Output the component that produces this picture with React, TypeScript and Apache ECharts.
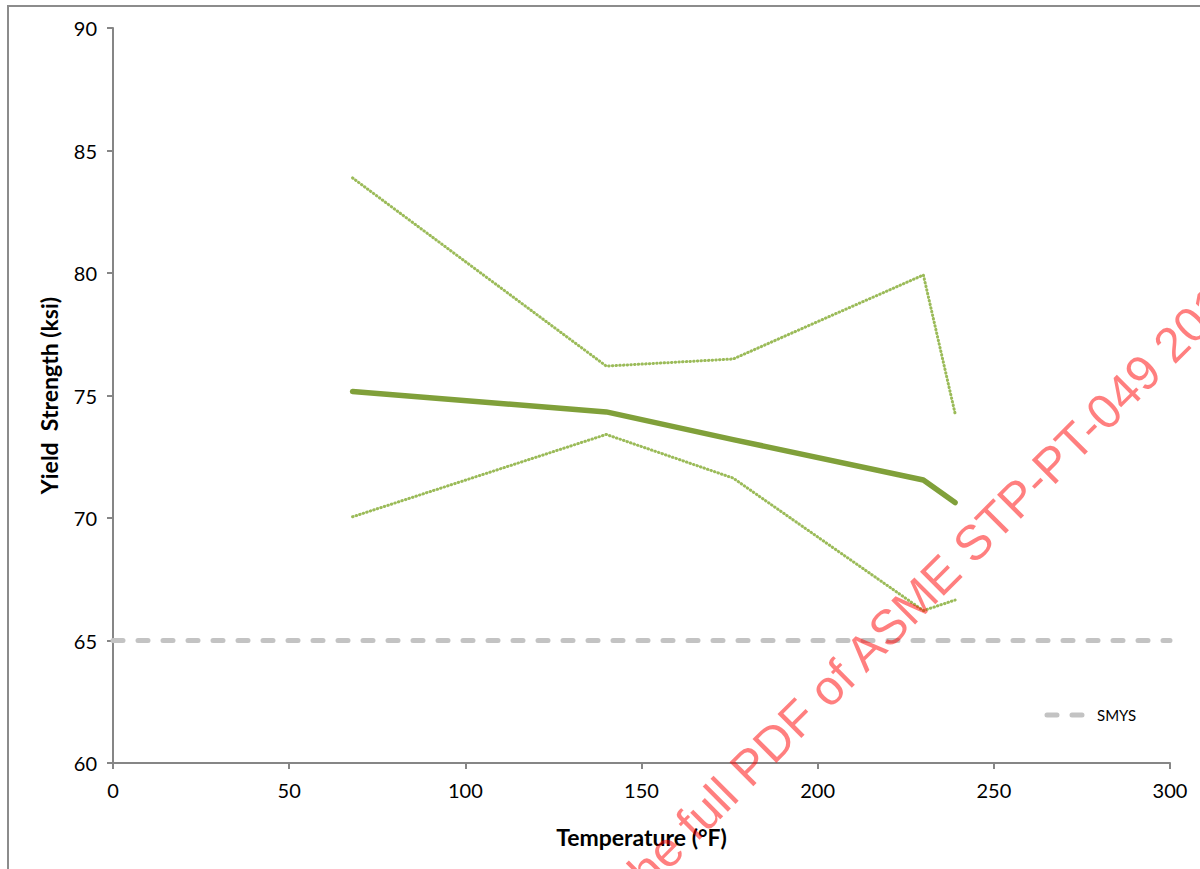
import React, { useEffect, useRef } from "react";
import * as echarts from "echarts";

const temps = [68, 140, 176, 230, 239];
const meanYS = [75.16, 74.33, 73.2, 71.55, 70.63];
const upperYS = [83.88, 76.2, 76.49, 79.92, 74.27];
const lowerYS = [70.05, 73.41, 71.63, 66.22, 66.65];
const smysX = [0, 300];
const smysY = [65, 65];
const yTicks = { min: 60, max: 90, step: 5 };
const xTicks = { min: 0, max: 300, step: 50 };
const legendLabel = "SMYS";
const watermark = "Click to view the full PDF of ASME STP-PT-049 2014";

const pair = (xs: number[], ys: number[]) => xs.map((x, i) => [x, ys[i]]);

export default function App() {
  const ref = useRef<HTMLDivElement>(null);
  useEffect(() => {
    if (!ref.current) return;
    const chart = echarts.init(ref.current, null, { renderer: "svg" });
    const font = "Lato, 'Open Sans', sans-serif";
    const axisColor = "#868686";
    const smysStyle = { color: "#c3c3c3", width: 5, type: [10, 15], cap: "round" };
    chart.setOption({
      animation: false,
      backgroundColor: "#ffffff",
      textStyle: { fontFamily: font },
      grid: { left: 113, top: 28, right: 30, bottom: 106, containLabel: false },
      xAxis: {
        type: "value",
        min: xTicks.min,
        max: xTicks.max,
        interval: xTicks.step,
        name: "Temperature (°F)",
        nameLocation: "middle",
        nameGap: 62,
        nameTextStyle: { fontSize: 23, fontWeight: "bold", color: "#000", fontFamily: font },
        axisLine: { show: true, lineStyle: { color: axisColor, width: 2 } },
        axisTick: { show: true, inside: false, length: 6, lineStyle: { color: axisColor, width: 2 } },
        axisLabel: { fontSize: 20, color: "#000", margin: 17, fontFamily: font },
        splitLine: { show: false },
      },
      yAxis: {
        type: "value",
        min: yTicks.min,
        max: yTicks.max,
        interval: yTicks.step,
        name: "Yield  Strength (ksi)",
        nameLocation: "middle",
        nameGap: 53,
        nameRotate: 90,
        nameTextStyle: { fontSize: 23, fontWeight: "bold", color: "#000", fontFamily: font },
        axisLine: { show: true, lineStyle: { color: axisColor, width: 2 } },
        axisTick: { show: true, inside: false, length: 6, lineStyle: { color: axisColor, width: 2 } },
        axisLabel: { fontSize: 20, color: "#000", margin: 16, fontFamily: font },
        splitLine: { show: false },
      },
      series: [
        {
          name: legendLabel,
          type: "line",
          data: pair(smysX, smysY),
          symbol: "none",
          lineStyle: smysStyle,
        },
        {
          name: "Upper",
          type: "line",
          data: pair(temps, upperYS),
          symbol: "none",
          lineStyle: { color: "#9bbb59", width: 3, type: [0.5, 3.2], cap: "round", join: "round" },
        },
        {
          name: "Lower",
          type: "line",
          data: pair(temps, lowerYS),
          symbol: "none",
          lineStyle: { color: "#9bbb59", width: 3, type: [0.5, 3.2], cap: "round", join: "round" },
        },
        {
          name: "Mean",
          type: "line",
          data: pair(temps, meanYS),
          symbol: "none",
          lineStyle: { color: "#80a03a", width: 5.5, cap: "round", join: "round" },
        },
      ],
      graphic: [
        {
          type: "rect",
          shape: { x: 8, y: 6, width: 1400, height: 1000 },
          style: { fill: "none", stroke: "#8c8c8c", lineWidth: 2 },
          silent: true,
          z: 0,
        },
        {
          type: "line",
          shape: { x1: 1047, y1: 715, x2: 1085, y2: 715 },
          style: { stroke: "#c3c3c3", lineWidth: 5, lineDash: [10, 15], lineCap: "round" },
          silent: true,
        },
        {
          type: "text",
          x: 1097,
          y: 715,
          style: {
            text: legendLabel,
            fill: "#000",
            font: "15px Lato, 'Open Sans', sans-serif",
            textAlign: "left",
            textVerticalAlign: "middle",
          },
          silent: true,
        },
        {
          type: "text",
          x: 442,
          y: 1108,
          rotation: Math.PI / 4,
          style: {
            text: watermark,
            fill: "rgba(255,0,0,0.5)",
            font: "49px 'Liberation Sans', Arial, sans-serif",
            textAlign: "left",
            textVerticalAlign: "bottom",
          },
          silent: true,
          z: 100,
        },
      ],
    });
    return () => chart.dispose();
  }, []);
  return (
    <div
      ref={ref}
      style={{ position: "fixed", left: 0, top: 0, width: 1200, height: 869 }}
    />
  );
}
